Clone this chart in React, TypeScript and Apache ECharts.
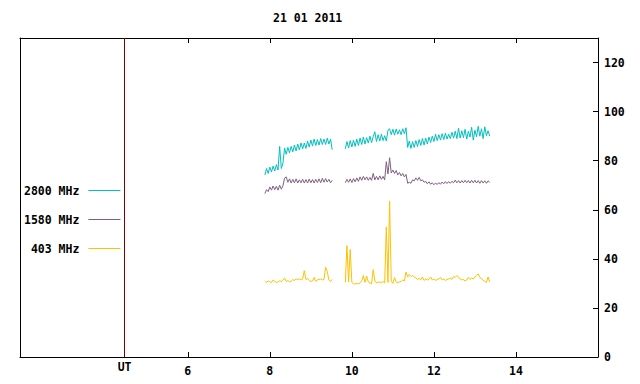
import { useEffect, useRef } from "react";
import * as echarts from "echarts";

const FONT = "'DejaVu Sans Mono', 'Liberation Mono', monospace";
const TEAL = "#00c0c0";
const PURPLE = "#806080";
const GOLD = "#ffc000";

const TITLE = "21 01 2011";
const SERIES_NAMES = ["2800 MHz", "1580 MHz", "403 MHz"];
const X_TICKS = [6, 8, 10, 12, 14];
const Y_TICKS = [0, 20, 40, 60, 80, 100, 120];
const UT_POSITION = 4.46;
const GAP_TIME = 9.68;

// first observing block (UT hours)
const times1 = [
  7.88, 7.92, 7.96, 8.0, 8.04, 8.08, 8.12, 8.16, 8.2, 8.24,
  8.28, 8.32, 8.36, 8.4, 8.44, 8.48, 8.52, 8.56, 8.6, 8.64,
  8.68, 8.72, 8.76, 8.8, 8.84, 8.88, 8.92, 8.96, 9.0, 9.04,
  9.08, 9.12, 9.16, 9.2, 9.24, 9.28, 9.32, 9.36, 9.4, 9.44,
  9.48, 9.52,
];
// second observing block (UT hours)
const times2 = [
  9.84, 9.88, 9.92, 9.96, 10.0, 10.04, 10.08, 10.12, 10.16, 10.2,
  10.24, 10.28, 10.32, 10.36, 10.4, 10.44, 10.48, 10.52, 10.56, 10.6,
  10.64, 10.68, 10.72, 10.76, 10.8, 10.84, 10.88, 10.92, 10.96, 11.0,
  11.04, 11.08, 11.12, 11.16, 11.2, 11.24, 11.28, 11.32, 11.36, 11.4,
  11.44, 11.48, 11.52, 11.56, 11.6, 11.64, 11.68, 11.72, 11.76, 11.8,
  11.84, 11.88, 11.92, 11.96, 12.0, 12.04, 12.08, 12.12, 12.16, 12.2,
  12.24, 12.28, 12.32, 12.36, 12.4, 12.44, 12.48, 12.52, 12.56, 12.6,
  12.64, 12.68, 12.72, 12.76, 12.8, 12.84, 12.88, 12.92, 12.96, 13.0,
  13.04, 13.08, 13.12, 13.16, 13.2, 13.24, 13.28, 13.32, 13.36,
];

const f2800a = [
  74.2, 76.8, 74.8, 77.4, 75.4, 77.8, 75.8, 78.4, 76.2, 85.8,
  76.8, 79.0, 85.2, 82.6, 85.4, 83.2, 85.8, 83.6, 86.4, 84.0,
  86.8, 84.4, 87.2, 84.8, 87.2, 85.0, 88.0, 85.6, 88.4, 86.0,
  88.8, 86.2, 88.6, 86.4, 89.0, 86.6, 88.8, 86.6, 89.2, 86.8,
  88.8, 84.5,
];
const f2800b = [
  84.8, 87.8, 85.2, 88.2, 85.6, 88.4, 85.8, 88.8, 86.2, 89.2,
  86.6, 89.6, 86.8, 89.4, 87.2, 90.0, 87.4, 89.8, 91.8, 87.8,
  90.6, 88.0, 90.8, 88.2, 90.2, 88.0, 92.4, 93.0, 90.6, 92.8,
  90.4, 92.9, 90.8, 92.6, 90.6, 93.0, 91.0, 93.4, 85.4, 88.0,
  85.0, 87.8, 85.4, 88.2, 85.8, 88.6, 86.2, 89.0, 86.4, 89.2,
  86.8, 89.6, 87.4, 90.0, 87.8, 90.8, 88.2, 90.6, 88.4, 91.0,
  88.6, 91.2, 88.8, 90.8, 89.0, 91.6, 89.2, 92.0, 89.0, 93.2,
  89.2, 92.2, 89.4, 92.8, 88.8, 92.0, 89.6, 93.6, 88.4, 92.4,
  89.8, 94.0, 90.0, 93.0, 89.0, 93.8, 90.2, 92.2, 90.0,
];

const f1580a = [
  66.6, 68.2, 67.4, 69.3, 68.0, 69.7, 68.2, 69.6, 68.0, 70.0,
  68.4, 69.8, 72.9, 73.4, 71.2, 72.6, 70.9, 72.4, 71.0, 72.6,
  70.9, 72.2, 71.0, 72.4, 70.9, 72.3, 70.9, 72.5, 71.0, 72.3,
  70.9, 72.4, 71.1, 72.6, 71.0, 72.8, 71.2, 72.7, 71.3, 72.4,
  71.0, 72.0,
];
const f1580b = [
  71.0, 72.4, 71.2, 72.6, 71.1, 72.7, 71.4, 73.0, 71.6, 73.4,
  72.0, 73.6, 72.2, 73.4, 72.0, 73.2, 72.0, 74.8, 72.2, 73.6,
  72.2, 73.8, 72.4, 73.6, 72.2, 79.6, 74.6, 81.2, 75.0, 76.2,
  74.8, 76.0, 74.2, 75.2, 73.8, 74.8, 73.4, 74.4, 70.8, 71.2,
  70.8, 72.2, 71.8, 73.0, 72.0, 73.2, 71.8, 72.2, 71.2, 71.6,
  70.6, 71.4, 70.4, 71.0, 70.2, 70.9, 70.3, 71.1, 70.4, 71.3,
  70.6, 71.5, 70.7, 71.5, 70.8, 71.6, 71.0, 72.1, 71.0, 71.9,
  70.9, 71.9, 71.0, 72.0, 71.0, 71.9, 70.9, 72.0, 71.0, 72.0,
  70.9, 71.9, 70.8, 71.9, 70.9, 71.8, 70.8, 71.8, 71.2,
];

const f403a = [
  30.8, 30.4, 31.0, 30.6, 30.4, 31.4, 30.8, 30.4, 30.6, 31.0,
  30.8, 31.4, 32.2, 30.8, 31.2, 30.6, 30.8, 31.6, 31.2, 31.8,
  31.6, 31.8, 31.4, 31.8, 35.2, 31.6, 32.0, 31.2, 30.8, 31.0,
  32.4, 30.8, 31.4, 31.6, 31.8, 31.4, 31.6, 36.6, 34.8, 31.4,
  30.8, 31.6,
];
const f403b = [
  30.4, 45.4, 30.6, 43.8, 30.4, 29.8, 29.8, 30.0, 29.8, 30.2,
  31.0, 33.2, 30.4, 33.0, 30.6, 30.2, 29.8, 35.6, 31.0, 30.2,
  30.4, 30.6, 30.2, 30.8, 30.2, 53.0, 30.4, 63.5, 30.8, 30.0,
  32.4, 30.6, 30.2, 30.6, 30.8, 31.4, 31.0, 34.6, 32.6, 33.6,
  32.8, 33.2, 32.6, 32.2, 31.6, 32.0, 31.4, 32.6, 31.2, 31.8,
  31.4, 31.6, 32.6, 31.4, 31.8, 31.2, 31.6, 31.8, 32.4, 31.4,
  31.8, 31.2, 31.6, 31.8, 32.2, 31.6, 32.8, 32.4, 33.2, 32.6,
  31.8, 31.4, 31.6, 31.0, 31.4, 32.4, 31.6, 32.2, 31.8, 32.6,
  33.2, 33.9, 32.4, 32.0, 31.2, 30.8, 30.4, 32.6, 30.6,
];

function buildData(a: number[], b: number[]) {
  return [
    ...times1.map((t, i) => [t, a[i]]),
    [GAP_TIME, null],
    ...times2.map((t, i) => [t, b[i]]),
  ];
}

const textBase = {
  fontFamily: FONT,
  fontSize: 11.5,
  fontWeight: "bold" as const,
  color: "#000",
};

function lineSeries(name: string, color: string, data: any[], extra: any = {}) {
  return {
    name,
    type: "line",
    data,
    symbol: "none",
    showSymbol: false,
    connectNulls: false,
    lineStyle: { width: 1, color },
    itemStyle: { color },
    emphasis: { disabled: true },
    silent: true,
    ...extra,
  };
}

export default function App() {
  const ref = useRef<HTMLDivElement>(null);
  useEffect(() => {
    const chart = echarts.init(ref.current!, null, { renderer: "svg" });
    const xBase = {
      type: "value",
      min: 1.91,
      max: 16,
      splitLine: { show: false },
      axisLine: { show: true, onZero: false, lineStyle: { color: "#000", width: 1 } },
      axisTick: {
        show: true,
        inside: true,
        length: 5,
        customValues: X_TICKS,
        lineStyle: { color: "#000", width: 1 },
      },
    };
    chart.setOption({
      animation: false,
      backgroundColor: "#fff",
      title: {
        text: TITLE,
        left: 273,
        top: 12,
        padding: 0,
        textStyle: { ...textBase, lineHeight: 12 },
      },
      legend: {
        orient: "vertical",
        left: 24,
        top: 183.5,
        padding: 0,
        align: "right",
        icon: "rect",
        itemWidth: 32,
        itemHeight: 1,
        itemGap: 15,
        selectedMode: false,
        data: SERIES_NAMES,
        textStyle: { ...textBase, lineHeight: 14, padding: [0, 4, 0, 0] },
      },
      grid: { left: 20, right: 42, top: 38, bottom: 27, containLabel: false, outerBoundsMode: "none" },
      xAxis: [
        {
          ...xBase,
          position: "bottom",
          axisLabel: { ...textBase, customValues: X_TICKS, margin: 8 },
        },
        {
          ...xBase,
          position: "top",
          axisLabel: { show: false },
        },
      ],
      yAxis: [
        {
          type: "value",
          position: "right",
          min: 0,
          max: 130,
          splitLine: { show: false },
          axisLine: { show: true, onZero: false, lineStyle: { color: "#000", width: 1 } },
          axisTick: {
            show: true,
            inside: true,
            length: 5,
            customValues: Y_TICKS,
            lineStyle: { color: "#000", width: 1 },
          },
          axisLabel: { ...textBase, customValues: Y_TICKS, margin: 6 },
        },
        {
          type: "value",
          position: "left",
          min: 0,
          max: 130,
          splitLine: { show: false },
          axisLine: { show: true, onZero: false, lineStyle: { color: "#000", width: 1 } },
          axisTick: { show: false },
          axisLabel: { show: false },
        },
      ],
      series: [
        lineSeries(SERIES_NAMES[2], GOLD, buildData(f403a, f403b), {
          markLine: {
            silent: true,
            animation: false,
            symbol: ["none", "none"],
            lineStyle: { color: "#800000", width: 1, type: "solid" },
            label: { show: true, position: "start", formatter: "UT", distance: 4, ...textBase },
            emphasis: { disabled: true },
            data: [{ xAxis: UT_POSITION }],
          },
        }),
        lineSeries(SERIES_NAMES[1], PURPLE, buildData(f1580a, f1580b)),
        lineSeries(SERIES_NAMES[0], TEAL, buildData(f2800a, f2800b)),
      ],
    });
    return () => chart.dispose();
  }, []);
  return (
    <div
      ref={ref}
      style={{ position: "fixed", left: 0, top: 0, width: 640, height: 384, background: "#fff" }}
    />
  );
}
